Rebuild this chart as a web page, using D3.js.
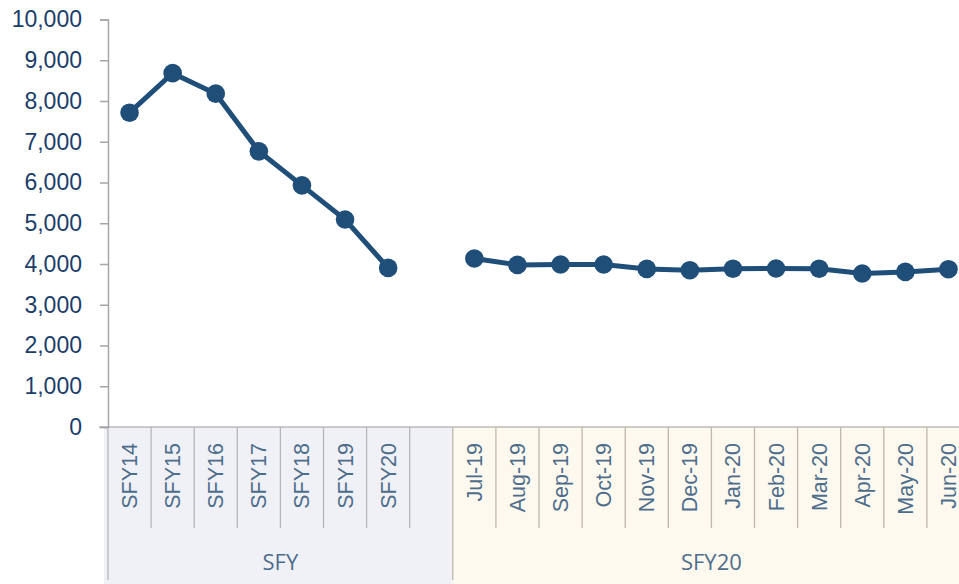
<!DOCTYPE html>
<html>
<head>
<meta charset="utf-8">
<style>
    body { margin: 0; background: #fff; }
    svg { display: block; font-family: 'Open Sans', sans-serif; }
    .y .domain, .y .tick line { stroke: #a6a6a6; }
    .y .tick text { font-size: 23px; fill: #1b3d6a; }
    .x .domain { display: none; }
    .x .tick line { display: none; }
    .x .tick text { font-size: 21.5px; fill: #4d6d8c; }
    .group-label { font-size: 22px; fill: #4d6d8c; }
</style>
</head>
<body>
<svg width="959" height="584"></svg>
<script src="https://d3js.org/d3.v7.min.js"></script>
<script>
    // categories, blank slot between the two groups
    let categories = ["SFY14", "SFY15", "SFY16", "SFY17", "SFY18", "SFY19", "SFY20", "",
        "Jul-19", "Aug-19", "Sep-19", "Oct-19", "Nov-19", "Dec-19",
        "Jan-20", "Feb-20", "Mar-20", "Apr-20", "May-20", "Jun-20"]

    let yearCats = ["SFY14", "SFY15", "SFY16", "SFY17", "SFY18", "SFY19", "SFY20"]
    let yearValues = [7713, 8684, 8180, 6765, 5930, 5091, 3904]

    let monthCats = ["Jul-19", "Aug-19", "Sep-19", "Oct-19", "Nov-19", "Dec-19",
        "Jan-20", "Feb-20", "Mar-20", "Apr-20", "May-20", "Jun-20"]
    let monthValues = [4135, 3978, 3987, 3987, 3880, 3848, 3885, 3890, 3885, 3767, 3806, 3873]

    let groupNames = ["SFY", "SFY20"]
    let groupStart = ["SFY14", ""]
    let groupEnd = ["", "Jun-20"]

    let yTicks = [0, 1000, 2000, 3000, 4000, 5000, 6000, 7000, 8000, 9000, 10000]

    let svg = d3.select("svg")

    let marginLeft = 108, plotBottom = 427, plotTop = 19.5
    let bw = 43.1

    let x = d3.scaleBand()
        .domain(categories)
        .range([marginLeft, marginLeft + bw * categories.length])
        .padding(0)

    let y = d3.scaleLinear()
        .domain([0, 10000])
        .range([plotBottom, plotTop])

    // group backgrounds
    let bgColors = ["#f0f1f6", "#fdf9ee"]
    groupNames.forEach(function (g, i) {
        let x0 = x(groupStart[i])
        let x1 = x(groupEnd[i]) + x.bandwidth()
        if (i == 0) x1 = x(groupEnd[i]) + x.bandwidth()
        if (i == 1) x0 = x("Jul-19")
        if (i == 0) x1 = x("Jul-19")
        svg.append("rect")
            .attr("x", i == 0 ? x0 - 4 : x0)
            .attr("y", plotBottom)
            .attr("width", x1 - x0 + (i == 0 ? 4 : 0))
            .attr("height", 584 - plotBottom)
            .attr("fill", bgColors[i])
        svg.append("text")
            .attr("class", "group-label")
            .attr("x", (x0 + x1) / 2)
            .attr("y", 570)
            .attr("text-anchor", "middle")
            .text(g)
    })

    // band separators
    categories.forEach(function (c, i) {
        let xe = x(c)
        let full = (i == 0 || c == "Jul-19")
        svg.append("line")
            .attr("x1", xe).attr("x2", xe)
            .attr("y1", plotBottom)
            .attr("y2", full ? 580 : 528)
            .attr("stroke", i >= 8 ? "#bdb8aa" : "#b4b6bc")
            .attr("stroke-width", 1.3)
    })

    // x axis labels
    svg.append("g")
        .attr("class", "x axis")
        .attr("transform", `translate(0, ${plotBottom})`)
        .call(d3.axisBottom(x).tickSize(0).tickPadding(0))
        .call(g => g.selectAll(".tick text")
            .attr("transform", "rotate(-90)")
            .attr("x", -16)
            .attr("y", 0)
            .attr("dy", "0.35em")
            .attr("text-anchor", "end"))

    // top line of category axis
    svg.append("line")
        .attr("x1", 99).attr("x2", 959)
        .attr("y1", plotBottom).attr("y2", plotBottom)
        .attr("stroke", "#bcbab4")
        .attr("stroke-width", 1.5)

    // y axis
    svg.append("g")
        .attr("class", "y axis")
        .attr("transform", `translate(${marginLeft}, 0)`)
        .call(d3.axisLeft(y)
            .tickValues(yTicks)
            .tickSize(8)
            .tickPadding(18)
            .tickFormat(d3.format(",")))
        .call(g => g.select(".domain").attr("stroke-width", 1.5))
        .call(g => g.selectAll(".tick line").attr("stroke-width", 1.5))

    let line = d3.line()
        .x(d => x(d[0]) + x.bandwidth() / 2)
        .y(d => y(d[1]))

    let color = "#1f4e79"
    let series = [d3.zip(yearCats, yearValues), d3.zip(monthCats, monthValues)]

    series.forEach(function (s) {
        svg.append("path")
            .datum(s)
            .attr("fill", "none")
            .attr("stroke", color)
            .attr("stroke-width", 5)
            .attr("d", line)
        svg.append("g")
            .selectAll("circle")
            .data(s)
            .join("circle")
            .attr("cx", d => x(d[0]) + x.bandwidth() / 2)
            .attr("cy", d => y(d[1]))
            .attr("r", 9.3)
            .attr("fill", color)
    })
</script>
</body>
</html>
